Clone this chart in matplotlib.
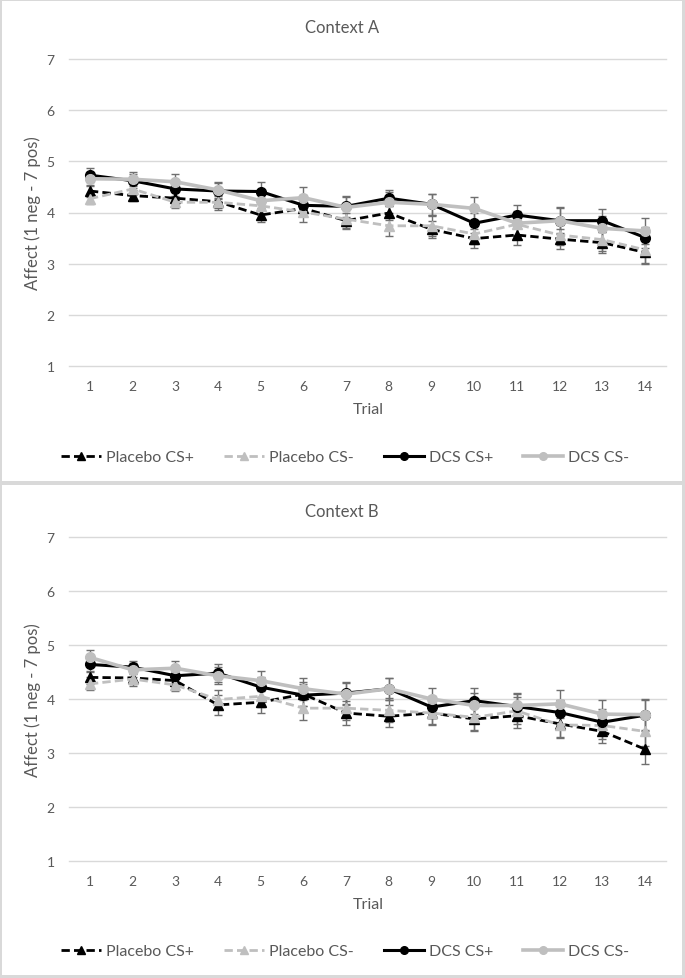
import matplotlib
matplotlib.use("Agg")
import matplotlib.pyplot as plt
from matplotlib.patches import Rectangle
from matplotlib.lines import Line2D

plt.rcParams['font.family'] = ['Lato', 'DejaVu Sans']

trials = list(range(1, 15))
series_names = ["Placebo CS+", "Placebo CS-", "DCS CS+", "DCS CS-"]

# Context A
a_placebo_plus = [4.42, 4.33, 4.28, 4.21, 3.95, 4.08, 3.84, 3.99, 3.67, 3.49, 3.56, 3.48, 3.41, 3.22]
a_placebo_minus = [4.27, 4.46, 4.20, 4.20, 4.13, 4.01, 3.87, 3.74, 3.74, 3.58, 3.77, 3.56, 3.47, 3.27]
a_dcs_plus = [4.73, 4.62, 4.46, 4.42, 4.41, 4.14, 4.12, 4.28, 4.16, 3.79, 3.95, 3.84, 3.84, 3.51]
a_dcs_minus = [4.66, 4.65, 4.60, 4.44, 4.23, 4.29, 4.10, 4.20, 4.16, 4.08, 3.79, 3.84, 3.69, 3.64]
a_err_placebo_plus = [0.12, 0.10, 0.12, 0.12, 0.14, 0.15, 0.16, 0.14, 0.16, 0.18, 0.20, 0.20, 0.20, 0.22]
a_err_placebo_minus = [0.10, 0.12, 0.12, 0.15, 0.15, 0.20, 0.17, 0.20, 0.20, 0.20, 0.20, 0.20, 0.22, 0.25]
a_err_dcs_plus = [0.13, 0.14, 0.15, 0.15, 0.18, 0.20, 0.20, 0.16, 0.20, 0.20, 0.20, 0.25, 0.22, 0.20]
a_err_dcs_minus = [0.14, 0.14, 0.15, 0.15, 0.16, 0.20, 0.20, 0.20, 0.20, 0.22, 0.24, 0.26, 0.25, 0.25]

# Context B
b_placebo_plus = [4.40, 4.39, 4.34, 3.89, 3.94, 4.09, 3.74, 3.68, 3.74, 3.63, 3.69, 3.54, 3.40, 3.07]
b_placebo_minus = [4.28, 4.37, 4.26, 3.99, 4.05, 3.83, 3.83, 3.79, 3.74, 3.66, 3.78, 3.52, 3.51, 3.40]
b_dcs_plus = [4.64, 4.59, 4.43, 4.48, 4.22, 4.07, 4.11, 4.19, 3.85, 3.97, 3.86, 3.75, 3.57, 3.70]
b_dcs_minus = [4.77, 4.54, 4.57, 4.43, 4.34, 4.19, 4.09, 4.19, 4.00, 3.88, 3.88, 3.91, 3.72, 3.71]
b_err_placebo_plus = [0.12, 0.12, 0.12, 0.18, 0.20, 0.22, 0.22, 0.20, 0.20, 0.22, 0.22, 0.24, 0.22, 0.27]
b_err_placebo_minus = [0.12, 0.12, 0.12, 0.18, 0.20, 0.22, 0.22, 0.22, 0.22, 0.24, 0.25, 0.25, 0.25, 0.27]
b_err_dcs_plus = [0.14, 0.12, 0.14, 0.16, 0.18, 0.20, 0.20, 0.20, 0.20, 0.24, 0.24, 0.24, 0.24, 0.29]
b_err_dcs_minus = [0.14, 0.13, 0.14, 0.16, 0.18, 0.20, 0.20, 0.20, 0.20, 0.24, 0.24, 0.26, 0.26, 0.29]

yticks = [1, 2, 3, 4, 5, 6, 7]

W, H = 685, 979
fig = plt.figure(figsize=(W / 100, H / 100), dpi=100, facecolor='#d9d9d9')

def fx(px):
    return px / W

def fy(py):
    return 1 - py / H

# white panels
fig.patches.append(Rectangle((fx(2), fy(482)), fx(680), 480 / H, transform=fig.transFigure,
                             facecolor='white', edgecolor='none', zorder=-5))
fig.patches.append(Rectangle((fx(2), fy(976)), fx(680), 490 / H, transform=fig.transFigure,
                             facecolor='white', edgecolor='none', zorder=-5))

styles = [
    dict(color='black', ls=(0, (3, 1.5)), marker='^', lw=2.0),
    dict(color='#bfbfbf', ls=(0, (3, 1.5)), marker='^', lw=2.0),
    dict(color='black', ls='-', marker='o', lw=2.2),
    dict(color='#bfbfbf', ls='-', marker='o', lw=2.6),
]
text_col = '#595959'


def draw_panel(top_px, bot_px, title, title_y, trial_y, legend_y, data, errs):
    x0, x1 = 68.6, 666.4
    ax = fig.add_axes([fx(x0), fy(bot_px), fx(x1 - x0), (bot_px - top_px) / H])
    ax.set_facecolor('none')
    for vals, err, st in zip(data, errs, styles):
        ax.errorbar(trials, vals, yerr=err, color=st['color'], ls=st['ls'], lw=st['lw'],
                    marker=st['marker'], markersize=7, ecolor='#6f6f6f', elinewidth=1.0,
                    capsize=3, capthick=1.0, zorder=3)
    ax.set_xlim(0.5, 14.5)
    ax.set_ylim(1, 7)
    ax.set_yticks(yticks)
    ax.set_xticks(trials)
    ax.grid(axis='y', color='#d9d9d9', lw=1.0, zorder=0)
    ax.set_axisbelow(True)
    for s in ax.spines.values():
        s.set_visible(False)
    ax.tick_params(length=0, colors=text_col, labelsize=10)
    ax.tick_params(axis='y', pad=10)
    ax.tick_params(axis='x', pad=10)
    for gl in ax.get_ygridlines():
        gl.set_clip_on(False)
    fig.text(fx(342), fy(title_y), title, ha='center', va='center', fontsize=12, color=text_col)
    fig.text(fx(33), fy((top_px + bot_px) / 2), 'Affect (1 neg - 7 pos)', rotation=90,
             ha='center', va='center', fontsize=12, color=text_col)
    fig.text(fx(368), fy(trial_y), 'Trial', ha='center', va='center', fontsize=11.5, color=text_col)
    handles = [Line2D([], [], color=st['color'], ls=st['ls'], lw=st['lw'], marker=st['marker'],
                      markersize=5.5) for st in styles]
    fig.legend(handles, series_names, loc='center', bbox_to_anchor=(fx(345), fy(legend_y)),
               ncol=4, frameon=False, fontsize=11.5, handlelength=2.5, handletextpad=0.3,
               columnspacing=1.9, labelcolor=text_col)
    return ax


draw_panel(60, 367, 'Context A', 28, 410, 458,
           [a_placebo_plus, a_placebo_minus, a_dcs_plus, a_dcs_minus],
           [a_err_placebo_plus, a_err_placebo_minus, a_err_dcs_plus, a_err_dcs_minus])
draw_panel(538, 862, 'Context B', 512, 905, 952,
           [b_placebo_plus, b_placebo_minus, b_dcs_plus, b_dcs_minus],
           [b_err_placebo_plus, b_err_placebo_minus, b_err_dcs_plus, b_err_dcs_minus])

fig.savefig('out.png', dpi=100, facecolor=fig.get_facecolor())
